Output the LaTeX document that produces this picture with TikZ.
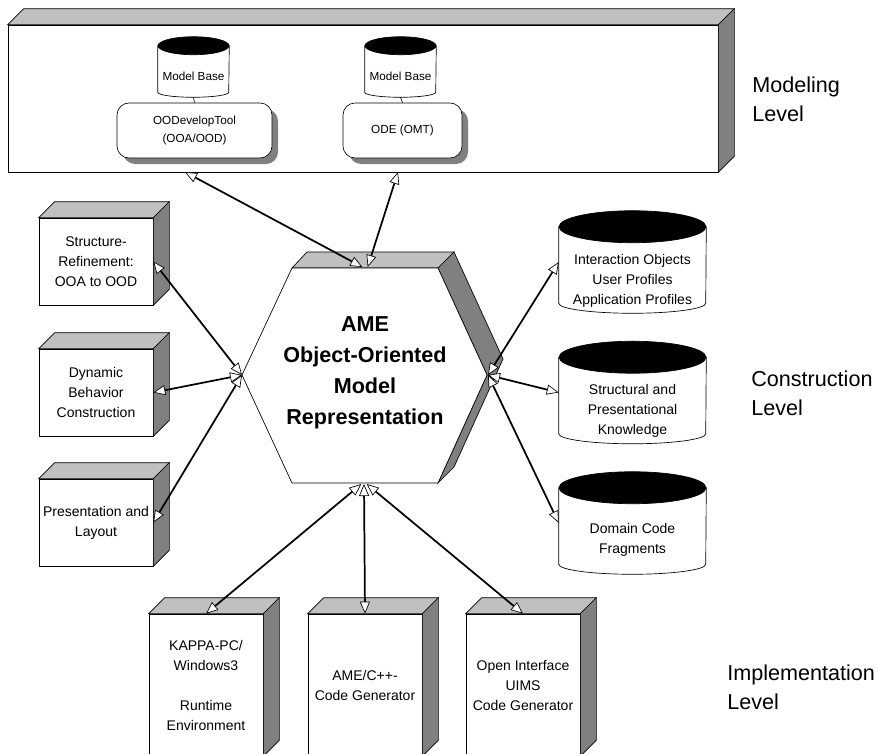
\documentclass[tikz,border=0pt]{standalone}
\usepackage{fontspec}
\setmainfont{Liberation Sans}
\usepackage{tikz}
\usetikzlibrary{arrows.meta, shadows}

\definecolor{topgray}{HTML}{C0C0C0}
\definecolor{sidegray}{HTML}{808080}

% top and right faces of an extruded block
\newcommand{\blockfaces}[1]{%
  \filldraw[fill=topgray, line width=0.5pt] (#1.north west) -- ++(16,-16)
    -- ([shift={(16,-16)}]#1.north east) -- (#1.north east) -- cycle;
  \filldraw[fill=sidegray, line width=0.5pt] (#1.north east) -- ([shift={(16,-16)}]#1.north east)
    -- ([shift={(16,-16)}]#1.south east) -- (#1.south east) -- cycle;
}
% data store drawn round a node: name, half width, top radius, bottom radius
\newcommand{\storeshape}[4]{%
  \filldraw[fill=white, line width=0.5pt] ([shift={(0,#3)}]#1.north west) -- ([shift={(0,-#4)}]#1.south west)
    arc[start angle=180, end angle=0, x radius=#2, y radius=#4] -- ([shift={(0,#3)}]#1.north east) -- cycle;
  \filldraw[fill=black, line width=0.5pt] ([shift={(0,#3)}]#1.north) ellipse[x radius=#2, y radius=#3];
}

\begin{document}
\begin{tikzpicture}[
    x=0.75pt, y=-0.75pt,
    block/.style={rectangle, draw, fill=white, line width=0.5pt, align=center, inner sep=2pt, font=\fontsize{10.5}{15}\selectfont},
    tool/.style={rectangle, rounded corners=9pt, draw, fill=white, line width=0.5pt, align=center, font=\fontsize{8.8}{13.5}\selectfont,
        drop shadow={opacity=1, fill=sidegray, shadow xshift=4.5pt, shadow yshift=-4.5pt}},
    store/.style={rectangle, inner sep=0pt},
    storetext/.style={align=center, font=\fontsize{10.5}{15}\selectfont},
    level/.style={anchor=west, align=left, inner sep=0pt, font=\fontsize{16.2}{22}\selectfont},
    link/.style={<->, >={Triangle[fill=white, line width=0.5pt, length=9pt, width=7.5pt]}, line width=1.3pt}
]
\clip (0,0) rectangle (877,753);

% Modeling Level
\node[block, minimum width=532.5pt, minimum height=110.25pt] (model) at (363,98.5) {};
\blockfaces{model}
\node[store, minimum width=53.25pt, minimum height=45pt] (baseA) at (193.5,67) {};
\storeshape{baseA}{35.5}{9}{5}
\node[storetext, font=\fontsize{8.8}{13.5}\selectfont] (baseAtxt) at ([yshift=-6.75pt]baseA.center) {Model Base};
\node[store, minimum width=53.25pt, minimum height=45pt] (baseB) at (400.5,67) {};
\storeshape{baseB}{35.5}{9}{5}
\node[storetext, font=\fontsize{8.8}{13.5}\selectfont] (baseBtxt) at ([yshift=-6.75pt]baseB.center) {Model Base};
\node[tool, minimum width=116.25pt, minimum height=41.25pt] (toolA) at (194.5,130.5) {OODevelopTool\\(OOA/OOD)};
\node[tool, minimum width=89.25pt, minimum height=41.25pt] (toolB) at (402.5,130.5) {ODE (OMT)};
\draw[line width=0.5pt] (baseA.south) -- (toolA.north);
\draw[line width=0.5pt] (baseB.south) -- (toolB.north);
\node[level] (modlevel) at (752,99) {Modeling\\Level};

% central hexagon
\filldraw[fill=topgray, line width=0.5pt] (292,268) -- (307,252) -- (454,252) -- (438,268) -- cycle;
\filldraw[fill=sidegray, line width=0.5pt] (438,268) -- (454,252) -- (503,359) -- (454,467) -- (438,483) -- (487,375) -- cycle;
\filldraw[fill=white, line width=0.5pt] (292,268) -- (438,268) -- (487,375) -- (438,483) -- (292,483) -- (242,375) -- cycle;
\node[align=center, font=\fontsize{16.2}{23.25}\selectfont\bfseries] (ame) at (365,373)
    {AME\\Object-Oriented\\Model\\Representation};
\coordinate (hexN) at (365,267);
\coordinate (hexW) at (242,375);
\coordinate (hexE) at (488,375);
\coordinate (hexS) at (364,484);
\coordinate (modA) at (185,172);
\coordinate (modB) at (398,172);

% Construction Level
\node[block, minimum width=85.5pt, minimum height=65.25pt] (refine) at (96,261.5) {Structure-\\Refinement:\\OOA to OOD};
\blockfaces{refine}
\node[block, minimum width=85.5pt, minimum height=65.25pt] (dynamic) at (96,392.5) {Dynamic\\Behavior\\Construction};
\blockfaces{dynamic}
\node[block, minimum width=85.5pt, minimum height=65.25pt] (layout) at (96,522.5) {Presentation and\\Layout};
\blockfaces{layout}

\node[store, minimum width=110.25pt, minimum height=76.5pt] (objects) at (632.5,262) {};
\storeshape{objects}{73.5}{16}{10}
\node[storetext] (objectstxt) at ([yshift=-14pt]objects.center) {Interaction Objects\\User Profiles\\Application Profiles};
\node[store, minimum width=110.25pt, minimum height=76.5pt] (knowledge) at (632.5,392.5) {};
\storeshape{knowledge}{73.5}{16}{10}
\node[storetext] (knowledgetxt) at ([yshift=-14pt]knowledge.center) {Structural and\\Presentational\\Knowledge};
\node[store, minimum width=110.25pt, minimum height=76.5pt] (fragments) at (632.5,523) {};
\storeshape{fragments}{73.5}{16}{10}
\node[storetext] (fragmentstxt) at ([yshift=-13pt]fragments.center) {Domain Code\\Fragments};
\node[level] (conlevel) at (751,393) {Construction\\Level};

% Implementation Level
\node[block, minimum width=85.5pt, minimum height=106.5pt] (kappa) at (206,685) {KAPPA-PC/\\Windows3\\[15pt]Runtime\\Environment};
\blockfaces{kappa}
\node[block, minimum width=85.5pt, minimum height=106.5pt] (cppgen) at (365,685) {AME/C++-\\Code Generator};
\blockfaces{cppgen}
\node[block, minimum width=85.5pt, minimum height=106.5pt] (uimsgen) at (523,685) {Open Interface\\UIMS\\Code Generator};
\blockfaces{uimsgen}
\node[level] (implevel) at (727,687) {Implementation\\Level};

% links
\draw[link] (modA) -- ([xshift=-2pt]hexN);
\draw[link] (modB) -- ([xshift=2pt]hexN);
\draw[link] (refine.east) -- (hexW);
\draw[link] (dynamic.east) -- (hexW);
\draw[link] (layout.east) -- (hexW);
\draw[link] (objects.west) -- (hexE);
\draw[link] (knowledge.west) -- (hexE);
\draw[link] (fragments.west) -- (hexE);
\draw[link] (kappa.north) -- ([xshift=-2pt]hexS);
\draw[link] (cppgen.north) -- (hexS);
\draw[link] (uimsgen.north) -- ([xshift=2pt]hexS);

\end{tikzpicture}
\end{document}
